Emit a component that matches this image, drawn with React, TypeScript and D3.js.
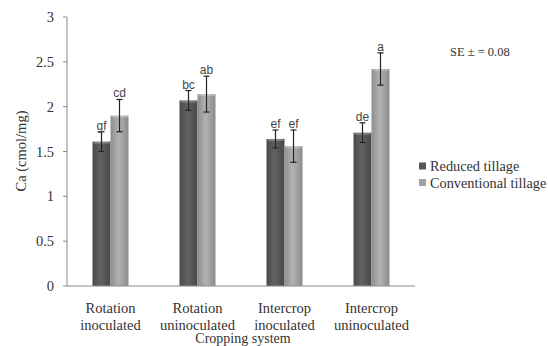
import React from "react";
import * as d3 from "d3";

const categories = [
  ["Rotation", "inoculated"],
  ["Rotation", "uninoculated"],
  ["Intercrop", "inoculated"],
  ["Intercrop", "uninoculated"],
];
const seriesNames = ["Reduced tillage", "Conventional tillage"];
const reducedValues = [1.61, 2.07, 1.64, 1.71];
const conventionalValues = [1.9, 2.14, 1.56, 2.42];
const reducedErrors = [0.11, 0.11, 0.1, 0.11];
const conventionalErrors = [0.18, 0.2, 0.18, 0.18];
const reducedLetters = ["gf", "bc", "ef", "de"];
const conventionalLetters = ["cd", "ab", "ef", "a"];
const yTicks = [0, 0.5, 1, 1.5, 2, 2.5, 3];

const W = 548;
const H = 346;
const left = 67;
const right = 415;
const top = 17;
const bottom = 286;

const SERIF = "'Liberation Serif', 'Times New Roman', Times, serif";
const SANS = "'Liberation Sans', Arial, sans-serif";

export default function App() {
  const keys = categories.map((c) => c.join(" "));
  const x = d3
    .scaleBand<string>()
    .domain(keys)
    .range([left, right])
    .paddingInner(0.586)
    .paddingOuter(0.293);
  const xs = d3
    .scaleBand<string>()
    .domain(seriesNames)
    .range([0, x.bandwidth()]);
  const y = d3.scaleLinear().domain([0, 3]).range([bottom, top]);

  const series = [
    { name: seriesNames[0], values: reducedValues, errors: reducedErrors, letters: reducedLetters, grad: "gradR", swatch: "#555" },
    { name: seriesNames[1], values: conventionalValues, errors: conventionalErrors, letters: conventionalLetters, grad: "gradC", swatch: "#a3a3a3" },
  ];

  return (
    <svg width={W} height={H} style={{ position: "absolute", left: 0, top: 0, background: "#fff" }}>
      <defs>
        <linearGradient id="gradR" x1="0" x2="1" y1="0" y2="0">
          <stop offset="0" stopColor="#4a4a4a" />
          <stop offset="0.45" stopColor="#626262" />
          <stop offset="1" stopColor="#484848" />
        </linearGradient>
        <linearGradient id="gradC" x1="0" x2="1" y1="0" y2="0">
          <stop offset="0" stopColor="#8e8e8e" />
          <stop offset="0.45" stopColor="#b2b2b2" />
          <stop offset="1" stopColor="#8c8c8c" />
        </linearGradient>
      </defs>
      <rect width={W} height={H} fill="#fff" />

      {/* y axis */}
      <line x1={left} x2={left} y1={top} y2={bottom} stroke="#8a8a8a" />
      {yTicks.map((t) => (
        <g key={t}>
          <line x1={left - 4} x2={left} y1={y(t)} y2={y(t)} stroke="#8a8a8a" />
          <text
            x={left - 13}
            y={y(t)}
            dy="0.35em"
            textAnchor="end"
            style={{ fontFamily: SERIF }}
            fontSize={14.5}
            fill="#333"
          >
            {t}
          </text>
        </g>
      ))}
      <text
        transform={`translate(26,151) rotate(-90)`}
        textAnchor="middle"
        style={{ fontFamily: SERIF }}
        fontSize={14.5}
        fill="#333"
      >
        Ca (cmol/mg)
      </text>

      {/* bars */}
      {series.map((s) =>
        keys.map((k, i) => {
          const bx = x(k)! + xs(s.name)!;
          const bw = xs.bandwidth();
          const v = s.values[i];
          const e = s.errors[i];
          const cx = bx + bw / 2;
          return (
            <g key={s.name + k}>
              <rect x={bx} y={y(v)} width={bw} height={bottom - y(v)} fill={`url(#${s.grad})`} />
              <rect x={bx + 1} y={y(v)} width={bw - 2} height={2} fill="#fff" opacity={0.25} />
              <line x1={cx} x2={cx} y1={y(v + e)} y2={y(v - e)} stroke="#222" strokeWidth={1.2} />
              <line x1={cx - 3} x2={cx + 3} y1={y(v + e)} y2={y(v + e)} stroke="#222" strokeWidth={1.2} />
              <line x1={cx - 3} x2={cx + 3} y1={y(v - e)} y2={y(v - e)} stroke="#222" strokeWidth={1.2} />
              <text
                x={cx}
                y={y(v + e) - 2}
                textAnchor="middle"
                style={{ fontFamily: SANS }}
                fontSize={12}
                fill="#444"
              >
                {s.letters[i]}
              </text>
            </g>
          );
        })
      )}

      {/* x axis */}
      <line x1={left} x2={right} y1={bottom} y2={bottom} stroke="#8a8a8a" />
      {categories.map((c, i) => {
        const cx = x(keys[i])! + x.bandwidth() / 2;
        return (
          <text
            key={keys[i]}
            x={cx}
            textAnchor="middle"
            style={{ fontFamily: SERIF }}
            fontSize={14.5}
            fill="#333"
          >
            <tspan x={cx} y={313}>{c[0]}</tspan>
            <tspan x={cx} y={330}>{c[1]}</tspan>
          </text>
        );
      })}
      <text
        x={(left + right) / 2 + 2}
        y={342.5}
        textAnchor="middle"
        style={{ fontFamily: SERIF }}
        fontSize={14}
        fill="#333"
      >
        Cropping system
      </text>

      <text x={450} y={56} style={{ fontFamily: SERIF }} fontSize={12.5} fill="#333">
        SE ± = 0.08
      </text>

      {/* legend */}
      {series.map((s, i) => (
        <g key={s.name} transform={`translate(419,${166 + i * 16.5})`}>
          <rect x={0} y={-3.5} width={7} height={7} fill={s.swatch} />
          <text x={11} y={0} dy="0.35em" style={{ fontFamily: SERIF }} fontSize={14.3} fill="#333">
            {s.name}
          </text>
        </g>
      ))}
    </svg>
  );
}
